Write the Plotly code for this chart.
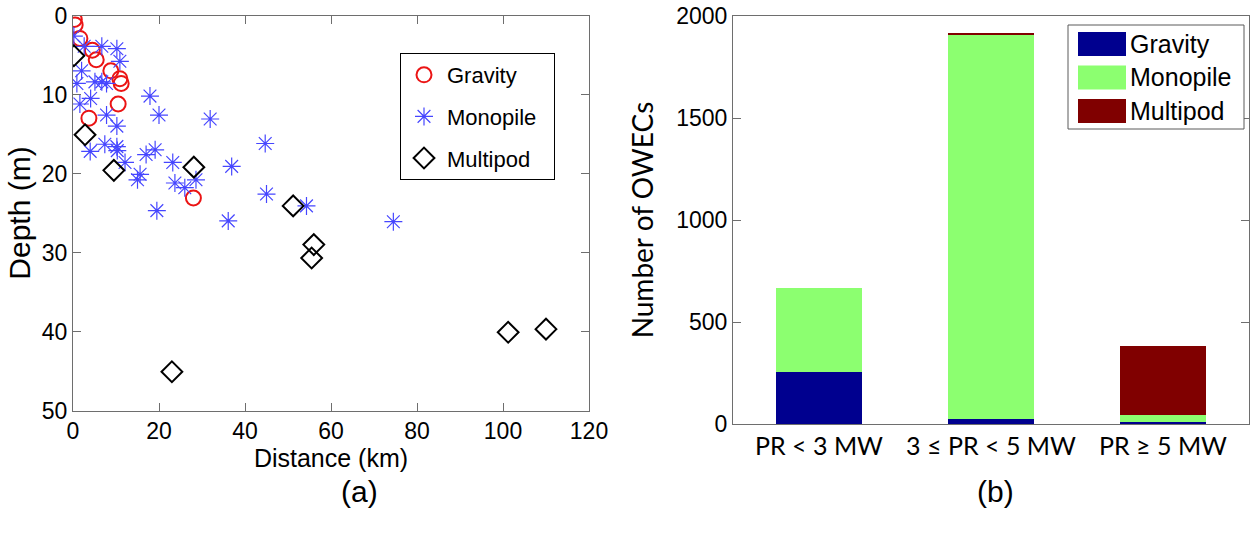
import plotly.graph_objects as go

# ---------------- data ----------------
grav_dist = [0.3, 0.5, 1.6, 4.5, 5.4, 8.8, 10.9, 11.2, 10.5, 3.7, 28.0]
grav_depth = [0.5, 1.2, 2.9, 4.4, 5.6, 7.0, 8.0, 8.6, 11.2, 13.0, 23.1]

mono_dist = [0.2, 2.6, 6.7, 10.2, 10.9, 2.0, 5.1, 0.9, 6.7, 7.8, 1.6, 4.1, 17.9, 20.0,
             7.8, 10.2, 31.9, 7.4, 10.2, 10.3, 4.0, 12.1, 17.0, 19.1, 23.2, 36.9, 15.6,
             15.0, 23.7, 26.0, 28.6, 19.5, 36.1, 44.7, 45.0, 54.3, 74.5]
mono_depth = [2.6, 3.9, 3.9, 4.2, 5.8, 7.0, 8.4, 8.6, 8.4, 8.6, 11.2, 10.5, 10.2, 12.6,
              12.6, 14.0, 13.1, 16.3, 16.6, 17.1, 17.2, 18.6, 17.6, 17.0, 18.6, 19.1, 20.1,
              20.8, 21.2, 21.8, 20.8, 24.7, 26.0, 16.2, 22.6, 24.1, 26.1]

mp_dist = [0.2, 2.8, 9.5, 28.1, 51.2, 56.0, 55.5, 23.0, 101.2, 110.0]
mp_depth = [5.1, 15.1, 19.6, 19.2, 24.1, 29.0, 30.7, 45.1, 40.1, 39.7]

categories = ["PR < 3 MW", "3 ≤ PR < 5 MW", "PR ≥ 5 MW"]
bar_gravity = [255, 25, 10]
bar_monopile = [412, 1882, 34]
bar_multipod = [0, 5, 338]

x_ticks_a = [0, 20, 40, 60, 80, 100, 120]
y_ticks_a = [0, 10, 20, 30, 40, 50]
y_ticks_b = [0, 500, 1000, 1500, 2000]

# ---------------- figure ----------------
W, H = 1250, 540
AX = "rgb(110,110,110)"
FONT = "Liberation Sans, Arial, sans-serif"
CAL = "Lato, Open Sans, sans-serif"

NAVY = "rgb(0,0,143)"
GREEN = "rgb(140,255,112)"
MAROON = "rgb(128,0,0)"

def px(x):
    return x / W

def py(y):
    return 1 - y / H

fig = go.Figure()

fig.add_trace(go.Scatter(x=grav_dist, y=grav_depth, mode="markers", name="Gravity\u00a0\u00a0",
                         legendgroup="g", xaxis="x", yaxis="y",
                         marker=dict(symbol="circle-open", size=15, color="rgb(235,20,20)",
                                     line=dict(width=2))))
fig.add_trace(go.Scatter(x=mono_dist, y=mono_depth, mode="markers", name="Monopile\u00a0\u00a0",
                         legendgroup="m", xaxis="x", yaxis="y",
                         marker=dict(symbol="asterisk-open", size=15, color="rgb(70,70,255)",
                                     line=dict(width=1.2, color="rgb(70,70,255)"))))
fig.add_trace(go.Scatter(x=mp_dist, y=mp_depth, mode="markers", name="Multipod\u00a0\u00a0",
                         legendgroup="p", xaxis="x", yaxis="y",
                         marker=dict(symbol="diamond-open", size=16, color="black",
                                     line=dict(width=2))))

for name, vals, col in [("Gravity", bar_gravity, NAVY),
                        ("Monopile", bar_monopile, GREEN),
                        ("Multipod", bar_multipod, MAROON)]:
    fig.add_trace(go.Bar(x=categories, y=vals, name=name, marker=dict(color=col, line=dict(width=0)),
                         width=0.5, xaxis="x2", yaxis="y2", showlegend=False))

axis_common = dict(showline=True, linecolor=AX, linewidth=1, mirror="ticks", showgrid=False,
                   zeroline=False, ticks="inside", tickcolor=AX, ticklen=8, automargin=False,
                   tickfont=dict(family=FONT, size=23, color="black"))

fig.update_layout(
    template="none",
    width=W, height=H, margin=dict(l=0, r=0, t=0, b=0, autoexpand=False),
    paper_bgcolor="white", plot_bgcolor="white",
    barmode="stack", showlegend=True,
    xaxis=dict(domain=[px(73), px(589)], range=[0, 120], tickvals=x_ticks_a,
               title=dict(text="Distance (km)", font=dict(family=FONT, size=25, color="black"),
                          standoff=2),
               anchor="y", **axis_common),
    yaxis=dict(domain=[py(410.5), py(15.5)], range=[50, 0], tickvals=y_ticks_a,
               title=dict(text="Depth (m)", font=dict(family=FONT, size=30, color="black"),
                          standoff=2),
               anchor="x", **axis_common),
    xaxis2=dict(domain=[px(733), px(1249)], range=[-0.5, 2.5], anchor="y2",
                showline=True, linecolor=AX, linewidth=1, mirror=True, showgrid=False,
                zeroline=False, ticks="", automargin=False,
                tickfont=dict(family=CAL, size=25, color="black")),
    yaxis2=dict(domain=[py(424), py(16)], range=[0, 2000], tickvals=y_ticks_b, anchor="x2",
                title=dict(text="Number of OWECs", font=dict(family=CAL, size=28, color="black"),
                           standoff=14),
                **axis_common),
    legend=dict(x=px(400), y=py(53), xanchor="left", yanchor="top",
                bordercolor="black", borderwidth=1, bgcolor="white",
                font=dict(family=FONT, size=22, color="black"),
                tracegroupgap=10, itemwidth=36),
)

# manual legend for the bar chart
shapes = [dict(type="rect", xref="paper", yref="paper", x0=px(1068), x1=px(1244),
               y0=py(129), y1=py(25), line=dict(color="rgb(90,90,90)", width=1),
               fillcolor="white", layer="above")]
annotations = []
for i, (name, col) in enumerate([("Gravity", NAVY), ("Monopile", GREEN), ("Multipod", MAROON)]):
    cy = 44 + i * 33.5
    shapes.append(dict(type="rect", xref="paper", yref="paper", x0=px(1078), x1=px(1126),
                       y0=py(cy + 12), y1=py(cy - 12), line=dict(width=0), fillcolor=col,
                       layer="above"))
    annotations.append(dict(text=name, xref="paper", yref="paper", x=px(1128), y=py(cy),
                            xanchor="left", yanchor="middle", showarrow=False,
                            font=dict(family=FONT, size=25, color="black")))

annotations.append(dict(text="(a)", xref="paper", yref="paper", x=px(359), y=py(491),
                        xanchor="center", yanchor="middle", showarrow=False,
                        font=dict(family=FONT, size=30, color="black")))
annotations.append(dict(text="(b)", xref="paper", yref="paper", x=px(996), y=py(491),
                        xanchor="center", yanchor="middle", showarrow=False,
                        font=dict(family=FONT, size=30, color="black")))

fig.update_layout(shapes=shapes, annotations=annotations)

fig.write_html("out.html")
